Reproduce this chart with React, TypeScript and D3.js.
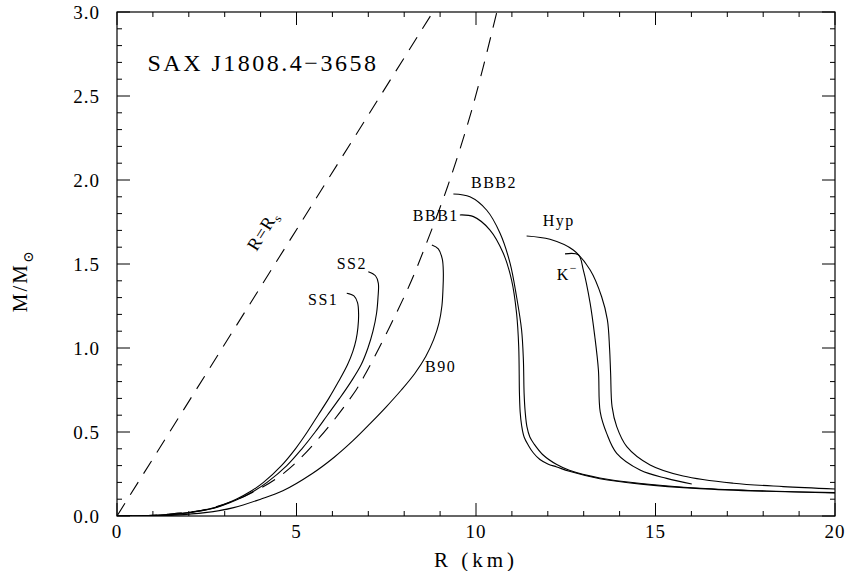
import React, { useEffect } from "react";
import * as d3 from "d3";

// ---- data (R in km, M in solar masses) ----
const ss1R = [6.40, 6.60, 6.70, 6.73, 6.71, 6.66, 6.57, 6.42, 6.17, 5.90, 5.60, 5.30, 4.97, 4.58, 4.08, 3.75, 3.32, 2.72, 2.00, 1.20, 0];
const ss1M = [1.326, 1.31, 1.27, 1.20, 1.12, 1.05, 0.98, 0.90, 0.80, 0.70, 0.60, 0.50, 0.40, 0.30, 0.20, 0.15, 0.10, 0.05, 0.02, 0.005, 0];

const ss2R = [7.00, 7.20, 7.28, 7.27, 7.23, 7.13, 6.99, 6.80, 6.52, 6.20, 5.86, 5.52, 5.15, 4.73, 4.18, 3.83, 3.37, 2.75, 2.00, 1.20, 0];
const ss2M = [1.454, 1.43, 1.385, 1.30, 1.207, 1.10, 1.00, 0.90, 0.80, 0.70, 0.60, 0.50, 0.40, 0.30, 0.20, 0.15, 0.10, 0.05, 0.02, 0.005, 0];

const b90R = [8.77, 8.95, 9.06, 9.09, 9.08, 9.05, 8.97, 8.82, 8.60, 8.30, 7.92, 7.50, 7.05, 6.58, 6.05, 5.42, 4.62, 4.00, 3.25, 2.45, 1.6, 0.8];
const b90M = [1.613, 1.59, 1.53, 1.45, 1.35, 1.25, 1.15, 1.05, 0.95, 0.85, 0.75, 0.65, 0.55, 0.45, 0.35, 0.25, 0.15, 0.10, 0.05, 0.02, 0.005, 0];

const bbb2R = [9.37, 9.83, 10.30, 10.67, 10.95, 11.13, 11.27, 11.32, 11.34, 11.37, 11.42, 11.50, 11.62, 11.87, 12.25, 12.60, 13.45, 14.60, 16.24, 18.1, 20];
const bbb2M = [1.917, 1.90, 1.82, 1.683, 1.504, 1.305, 1.107, 0.929, 0.73, 0.62, 0.53, 0.47, 0.428, 0.363, 0.306, 0.272, 0.226, 0.193, 0.165, 0.149, 0.139];

const bbb1R = [9.55, 9.93, 10.39, 10.76, 10.99, 11.13, 11.19, 11.21, 11.23, 11.27, 11.34, 11.46, 11.60, 11.78, 12.00, 12.25, 12.60, 13.45, 14.60, 16.24, 18.1, 20];
const bbb1M = [1.792, 1.782, 1.702, 1.564, 1.405, 1.207, 1.008, 0.73, 0.62, 0.54, 0.47, 0.42, 0.375, 0.336, 0.31, 0.292, 0.266, 0.222, 0.19, 0.163, 0.147, 0.137];

const hypR = [11.41, 12.06, 12.71, 13.18, 13.50, 13.66, 13.72, 13.75, 13.79, 13.92, 14.20, 14.85, 15.77, 17.17, 18.56, 20];
const hypM = [1.667, 1.647, 1.583, 1.464, 1.305, 1.167, 1.0, 0.85, 0.651, 0.532, 0.413, 0.304, 0.238, 0.195, 0.175, 0.161];

const kR = [12.48, 12.85, 12.99, 13.18, 13.31, 13.41, 13.46, 13.64, 13.92, 14.57, 15.31, 16.01];
const kM = [1.56, 1.554, 1.464, 1.266, 1.067, 0.869, 0.62, 0.492, 0.373, 0.274, 0.224, 0.19];

// dashed: R = R_s line and SAX J1808.4-3658 constraint
const rsR = [0, 8.8];
const rsM = [0, 3.0];
const saxR = [0, 1.0, 1.6, 2.41, 3.53, 4.64, 5.66, 6.66, 6.93, 7.30, 7.78, 8.20, 8.60, 9.22, 9.90, 10.58];
const saxM = [0, 0.004, 0.015, 0.036, 0.115, 0.254, 0.472, 0.75, 0.85, 1.0, 1.207, 1.4, 1.613, 1.968, 2.43, 3.0];

const xTicksMajor = [0, 5, 10, 15, 20];
const yTicksMajor = [0, 0.5, 1.0, 1.5, 2.0, 2.5, 3.0];
const xTickLabels = ["0", "5", "10", "15", "20"];
const yTickLabels = ["0.0", "0.5", "1.0", "1.5", "2.0", "2.5", "3.0"];

const curveLabels = ["SS1", "SS2", "B90", "BBB1", "BBB2", "Hyp"];
const curveLabelR = [5.32, 6.12, 8.58, 8.24, 9.86, 11.86];
const curveLabelM = [1.256, 1.47, 0.859, 1.756, 1.954, 1.726];

const W = 847, H = 571;
const margin = { left: 117, right: 12, top: 12, bottom: 55 };

export default function App() {
  useEffect(() => {
    document.body.style.margin = "0";
  }, []);

  const x = d3.scaleLinear().domain([0, 20]).range([margin.left, W - margin.right]);
  const y = d3.scaleLinear().domain([0, 3]).range([H - margin.bottom, margin.top]);

  const line = d3
    .line<[number, number]>()
    .x((d) => x(d[0]))
    .y((d) => y(d[1]))
    .curve(d3.curveCatmullRom.alpha(0.5));
  const straight = d3.line<[number, number]>().x((d) => x(d[0])).y((d) => y(d[1]));

  const zip = (a: number[], b: number[]) => a.map((v, i) => [v, b[i]] as [number, number]);

  const solid = [
    zip(ss1R, ss1M),
    zip(ss2R, ss2M),
    zip(b90R, b90M),
    zip(bbb2R, bbb2M),
    zip(bbb1R, bbb1M),
    zip(hypR, hypM),
    zip(kR, kM),
  ];

  const x0 = x(0), x1 = x(20), y0 = y(0), y1 = y(3);
  const majLen = 13, minLen = 5;
  const xMinor = d3.range(0, 21, 1);
  const yMinor = d3.range(0, 31, 1).map((v) => v / 10);

  const font = "'Liberation Serif', 'DejaVu Serif', serif";

  return (
    <svg width={W} height={H} style={{ display: "block", background: "#fff" }}>
      <defs>
        <clipPath id="plotclip">
          <rect x={x0} y={y1} width={x1 - x0} height={y0 - y1} />
        </clipPath>
      </defs>

      {/* curves */}
      <g clipPath="url(#plotclip)" fill="none" stroke="#000" strokeWidth={1.1}>
        {solid.map((pts, i) => (
          <path key={i} d={line(pts) || ""} />
        ))}
        <path d={straight(zip(rsR, rsM)) || ""} strokeDasharray="15,10" />
        <path d={line(zip(saxR, saxM)) || ""} strokeDasharray="15,10" />
      </g>

      {/* ticks */}
      <g stroke="#000" strokeWidth={1}>
        {xMinor.map((v) => {
          const len = v % 5 === 0 ? majLen : minLen;
          return (
            <g key={"xt" + v}>
              <line x1={x(v)} x2={x(v)} y1={y0} y2={y0 - len} />
              <line x1={x(v)} x2={x(v)} y1={y1} y2={y1 + len} />
            </g>
          );
        })}
        {yMinor.map((v, i) => {
          const len = i % 5 === 0 ? majLen : minLen;
          return (
            <g key={"yt" + i}>
              <line x1={x0} x2={x0 + len} y1={y(v)} y2={y(v)} />
              <line x1={x1} x2={x1 - len} y1={y(v)} y2={y(v)} />
            </g>
          );
        })}
      </g>
      <rect x={x0} y={y1} width={x1 - x0} height={y0 - y1} fill="none" stroke="#000" strokeWidth={1.2} />

      {/* tick labels */}
      <g fontFamily={font} fontSize={19} fill="#000" letterSpacing={1}>
        {xTicksMajor.map((v, i) => (
          <text key={"xl" + v} x={x(v)} y={y0 + 22} textAnchor="middle">
            {xTickLabels[i]}
          </text>
        ))}
        {yTicksMajor.map((v, i) => (
          <text key={"yl" + v} x={x0 - 17} y={y(v) + 7} textAnchor="end">
            {yTickLabels[i]}
          </text>
        ))}
      </g>

      {/* axis titles */}
      <text x={x(10)} y={H - 4} textAnchor="middle" fontFamily={font} fontSize={21} letterSpacing={4}>
        R (km)
      </text>
      <text
        transform={`translate(27, ${y(1.4)}) rotate(-90)`}
        textAnchor="middle"
        fontFamily={font}
        fontSize={21}
        letterSpacing={2}
      >
        M/M
        <tspan fontSize={14} dy={6}>⊙</tspan>
      </text>

      {/* title */}
      <text x={x(0.85)} y={y(2.65)} fontFamily={font} fontSize={24} letterSpacing={2.5}>
        SAX J1808.4−3658
      </text>

      {/* R = Rs label */}
      <text
        transform={`translate(${x(4.2)}, ${y(1.68)}) rotate(-58)`}
        textAnchor="middle"
        fontFamily={font}
        fontSize={18}
        letterSpacing={1}
      >
        R=R
        <tspan fontSize={12} dy={4}>s</tspan>
      </text>

      {/* curve labels */}
      <g fontFamily={font} fontSize={16} letterSpacing={1.5}>
        {curveLabels.map((t, i) => (
          <text key={t} x={x(curveLabelR[i])} y={y(curveLabelM[i])}>
            {t}
          </text>
        ))}
        <text x={x(12.25)} y={y(1.405)}>
          K<tspan fontSize={12} dy={-8}>−</tspan>
        </text>
      </g>
    </svg>
  );
}
